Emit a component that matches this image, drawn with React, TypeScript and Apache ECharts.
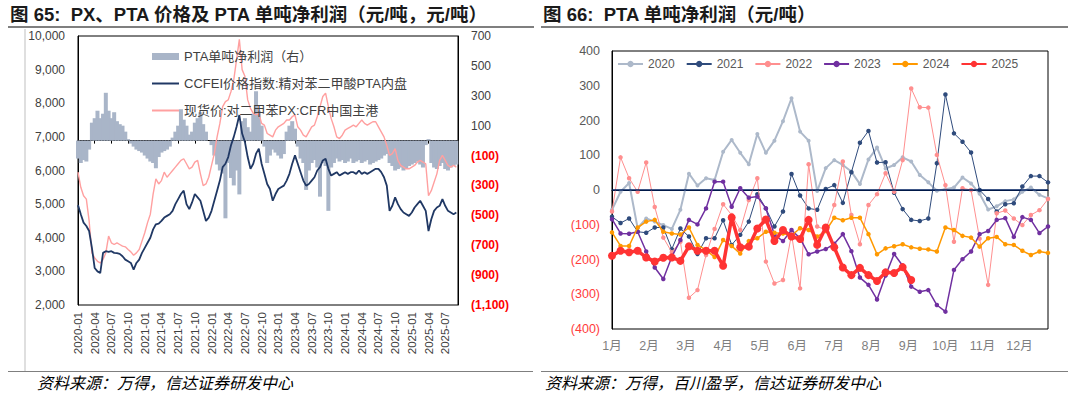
import React, { useEffect, useRef } from "react";
import * as echarts from "echarts";

// ---------- Left chart: semi-monthly samples from 2020-01 (step = 0.5 month) ----------
const SAMPLE_STEP = 0.5;
const START_YEAR = 2020;

const ptaPrice: number[] = [
  4970, 4700, 4450, 4350, 4200, 3700, 3100, 3000, 2950, 3550,
  3600, 3580, 3600, 3550, 3540, 3520, 3450, 3350, 3300, 3250,
  3050, 3250, 3350, 3550, 3700, 3850, 4000, 4250, 4400, 4420,
  4500, 4600, 4650, 4700, 4800, 5000, 5150, 5300, 5400, 5000,
  4850, 5050, 5300, 5200, 5100, 4800, 4500, 4600, 4800, 5100,
  5400, 5700, 6100, 6200, 6400, 6750, 7000, 7300, 7650, 7100,
  6850, 6400, 6050, 6200, 6500, 6650, 6200, 5900, 5600, 5450,
  5100, 5300, 5450, 5500, 5550, 5700, 5900, 6200, 6450, 6200,
  5950, 5700, 5550, 5600, 5700, 5800, 6000, 6100, 6300, 6350,
  6050, 5850, 5900, 5950, 5850, 5900, 5950, 5900, 5950, 5950,
  5900, 6000, 5900, 5950, 5900, 5950, 6000, 6050, 6050, 5950,
  5800, 5550, 4800, 4950, 5200, 5000, 4850, 4750, 4700, 4650,
  4750, 4900, 5000, 5100, 4950, 4800, 4200, 4550, 4800, 4900,
  4950, 5150, 4950, 4800, 4750, 4700, 4750,
];

const pxPrice: number[] = [
  5950, 5500, 5250, 5150, 4500, 3550, 3400, 3300, 3250, 3350,
  3550, 4050, 3850, 3800, 3850, 3800, 3750, 3730, 3650, 3580,
  3480, 3550, 3650, 3900, 4150, 4450, 4700, 5300, 5750, 5600,
  5700, 5950, 5800, 5900, 6000, 6100, 6200, 6300, 6350, 6200,
  6050, 6100, 6250, 6300, 5900, 5550, 5600, 5800, 6150, 6500,
  7000, 7400, 7900, 8050, 8100, 8350, 8700, 9300, 9900, 9000,
  8800, 8100, 7850, 7700, 7650, 7700, 7400, 7350, 7100, 7050,
  7000, 7200, 7300, 7350, 7400, 7500, 7500, 7600, 7650, 7300,
  7200, 7050, 7000, 7150, 7300, 7350, 7600, 7900, 8200, 8300,
  7900, 7550, 7300, 7000, 6950, 7050, 7200, 7250, 7300, 7350,
  7300, 7400, 7500, 7400, 7350, 7400, 7450, 7450, 7300, 7150,
  7000, 6750, 6450, 6500, 6650, 6300, 6150, 6100, 6050, 6050,
  6100, 6150, 6250, 6300, 6250, 6200, 5250, 5400, 5650, 5900,
  6300, 6450, 6300, 6150, 6100, 6150, 6100,
];

const ptaProfit: number[] = [
  -120, -150, -130, -140, -60, 120, 150, 200, 150, 180,
  320, 200, 150, 190, 130, 110, 100, 60, 10, -20,
  -40, -60, -70, -80, -100, -120, -140, -150, -185, -110,
  -80, -70, -60, -40, 20, 60, 100, 210, 140, 100,
  40, 60, 120, 150, 190, 110, 60, 0, -30, -100,
  -160, -200, -220, -520, -150, -250, -300, -200, -360, 130,
  150, 90, 60, 180, 330, 200, 100, -40, -150, -100,
  -60, -80, -100, -120, -90, 60, 100, 130, 80, -40,
  -120, -150, -330, -200, -150, -130, -180, -375, -150, -170,
  -470, -180, -150, -120, -140, -130, -150, -140, -120, -150,
  -140, -130, -150, -140, -130, -160, -150, -140, -130, -120,
  -100, -90, -150, -170, -200, -190, -180, -200, -190, -170,
  -160, -150, -140, -160, -180, -30, 10, -150, -180, -190,
  -170, -150, -190, -200, -180, -170, -160,
];

// ---------- Right chart: weekly PTA net profit by year ----------
const monthLabels = ["1月", "2月", "3月", "4月", "5月", "6月", "7月", "8月", "9月", "10月", "11月", "12月"];
const yearNames = ["2020", "2021", "2022", "2023", "2024", "2025"];

const profit2020 = [
  -57, -5, 20, -110, -82, -91, -101, -112, -57, 47,
  13, 34, 29, 110, 144, 107, 74, 161, 107, 142,
  198, 264, 168, 142, -3, 63, 86, 72, 53, 17,
  88, 122, 62, 72, 94, 82, 43, 22, -2, 2,
  7, 36, 19, -11, -56, -47, -32, -27, -5, 7,
  -14, -24,
];
const profit2021 = [
  -77, -95, -82, -120, -123, -108, -108, -170, -111, -134,
  -184, -139, -139, -87, -158, -129, -91, -12, -53, -105,
  -62, 46, -16, -53, -57, 3, 14, -37, 51, 136,
  170, 79, 80, -8, -55, -86, -89, -82, 77, 275,
  163, 139, 108, 0, -26, -62, -41, -38, 10, 40,
  40, 22,
];
const profit2022 = [
  -62, 94, 34, -5, 79, -49, -137, -179, -149, -310,
  -288, -187, -112, -41, -72, -115, -29, 34, -206, -269,
  -259, -128, -283, 74, -105, -115, -43, 82, -72, -156,
  -43, -12, 48, -5, 86, 292, 238, 237, 101, 14,
  -149, 5, 0, -140, -273, -67, -59, -82, -101, -72,
  -58, -26,
];
const profit2023 = [
  -84, -125, -126, -120, -177, -223, -256, -192, -144, -86,
  -99, -53, 24, 24, -48, 5, -22, -19, -53, -129,
  -147, -115, -139, -185, -177, -170, -155, -127, -176, -252,
  -273, -315, -246, -184, -218, -278, -293, -288, -331, -350,
  -230, -199, -177, -127, -118, -86, -81, -135, -78, -86,
  -124, -105,
];
const profit2024 = [
  -122, -161, -161, -108, -91, -86, -120, -125, -128, -108,
  -158, -173, -193, -144, -161, -183, -147, -139, -120, -123,
  -125, -131, -110, -115, -134, -118, -80, -87, -80, -80,
  -127, -185, -168, -162, -156, -165, -169, -171, -177, -108,
  -115, -132, -137, -163, -139, -135, -156, -158, -175, -187,
  -177, -181,
];
const profit2025 = [
  -189, -175, -179, -175, -194, -206, -195, -194, -204, -162,
  -175, -175, -175, -218, -79, -165, -163, -111, -85, -147,
  -115, -134, -141, -86, -158, -108, -165, -223, -245, -224,
  -245, -262, -237, -239, -222, -259,
];

const FONT = "'Liberation Sans', Arial, 'Noto Sans CJK SC', sans-serif";

function thousands(v: number): string {
  return Math.round(v).toString().replace(/\B(?=(\d{3})+(?!\d))/g, ",");
}

export default function App() {
  const ref = useRef<HTMLDivElement>(null);

  useEffect(() => {
    const chart = echarts.init(ref.current!, null, { renderer: "svg" });
    const semiMonthly = (arr: number[]) => arr.map((v, i) => [i * SAMPLE_STEP, v]);
    const weekly = (arr: number[]) => arr.map((v, i) => [i, v]);
    const wk = 52 / 12;

    const yearStyles = [
      { data: profit2020, color: "#ADB9CA", width: 2, size: 4 },
      { data: profit2021, color: "#2F4B7C", width: 1, size: 4.5 },
      { data: profit2022, color: "#FF8F8F", width: 1, size: 4.5 },
      { data: profit2023, color: "#7030A0", width: 1.5, size: 4.5 },
      { data: profit2024, color: "#FF9900", width: 1.5, size: 4.5 },
      { data: profit2025, color: "#FF3333", width: 3.5, size: 8 },
    ];

    const option: any = {
      animation: false,
      textStyle: { fontFamily: FONT },
      grid: [
        { left: 78, top: 36, width: 380, height: 269, show: true, borderColor: "#000", borderWidth: 1 },
        { left: 612, top: 51, width: 436, height: 278, show: true, borderColor: "#000", borderWidth: 1 },
      ],
      legend: [
        {
          orient: "vertical",
          left: 146,
          top: 45,
          itemWidth: 27,
          itemHeight: 7,
          itemGap: 14,
          data: [
            { name: "PTA单吨净利润（右）", icon: "rect" },
            { name: "CCFEI价格指数:精对苯二甲酸PTA内盘", itemStyle: { opacity: 0 } },
            { name: "现货价:对二甲苯PX:CFR中国主港", itemStyle: { opacity: 0 } },
          ],
          textStyle: { fontSize: 13, color: "#404040", fontFamily: FONT },
        },
        {
          left: 612,
          top: 53,
          itemWidth: 25,
          itemHeight: 8,
          itemGap: 11,
          data: yearNames,
          textStyle: { fontSize: 12, color: "#595959", fontFamily: FONT },
        },
      ],
      xAxis: [
        {
          type: "value",
          gridIndex: 0,
          min: 0,
          max: 68.3,
          interval: 3,
          axisLine: { show: true, lineStyle: { color: "#000" } },
          axisTick: { show: true, length: 3, lineStyle: { color: "#000" } },
          splitLine: { show: false },
          axisLabel: {
            rotate: 90,
            fontSize: 11.5,
            color: "#404040",
            margin: 7,
            showMaxLabel: false,
            formatter: (v: number) => {
              const m = Math.round(v);
              if (Math.abs(v - m) > 0.01 || m % 3 !== 0) return "";
              const y = START_YEAR + Math.floor(m / 12);
              const mm = (m % 12) + 1;
              return `${y}-${mm < 10 ? "0" + mm : mm}`;
            },
          },
        },
        {
          type: "value",
          gridIndex: 1,
          min: 0,
          max: 51,
          interval: wk,
          axisLine: { show: true, lineStyle: { color: "#000" } },
          axisTick: { show: false },
          splitLine: { show: false },
          axisLabel: {
            fontSize: 12.5,
            color: "#7F7F7F",
            margin: 11,
            showMaxLabel: false,
            formatter: (v: number) => {
              const k = v / wk;
              const r = Math.round(k);
              if (Math.abs(k - r) > 0.01 || r > 11) return "";
              return monthLabels[r];
            },
          },
        },
      ],
      yAxis: [
        {
          type: "value",
          gridIndex: 0,
          min: 2000,
          max: 10000,
          interval: 1000,
          axisLine: { show: true, lineStyle: { color: "#000" } },
          axisTick: { show: false },
          splitLine: { show: false },
          axisLabel: { formatter: (v: number) => thousands(v), color: "#404040", fontSize: 12, margin: 13 },
        },
        {
          type: "value",
          gridIndex: 0,
          position: "right",
          min: -1100,
          max: 700,
          interval: 200,
          axisLine: { show: true, lineStyle: { color: "#000" } },
          axisTick: { show: false },
          splitLine: { show: false },
          axisLabel: {
            margin: 13,
            formatter: (v: number) => (v < 0 ? `{n|(${thousands(-v)})}` : `{p|${thousands(v)}}`),
            rich: {
              n: { color: "#FF0000", fontWeight: "bold", fontSize: 12, fontFamily: FONT },
              p: { color: "#404040", fontSize: 12, fontFamily: FONT },
            },
          },
        },
        {
          type: "value",
          gridIndex: 1,
          min: -400,
          max: 400,
          interval: 100,
          axisLine: { show: true, lineStyle: { color: "#000" } },
          axisTick: { show: false },
          splitLine: { show: false },
          axisLabel: {
            margin: 12,
            formatter: (v: number) => (v < 0 ? `{n|(${thousands(-v)})}` : `{p|${thousands(v)}}`),
            rich: {
              n: { color: "#FF3B3B", fontSize: 12.5, fontFamily: FONT },
              p: { color: "#595959", fontSize: 12.5, fontFamily: FONT },
            },
          },
        },
      ],
      series: [
        {
          type: "bar",
          name: "PTA单吨净利润（右）",
          xAxisIndex: 0,
          yAxisIndex: 1,
          data: semiMonthly(ptaProfit),
          barWidth: 4,
          itemStyle: { color: "#A9B5C8" },
        },
        {
          type: "line",
          name: "现货价:对二甲苯PX:CFR中国主港",
          xAxisIndex: 0,
          yAxisIndex: 0,
          data: semiMonthly(pxPrice),
          symbol: "none",
          lineStyle: { color: "#FFA0A0", width: 1.4 },
          itemStyle: { color: "#FFA0A0" },
        },
        {
          type: "line",
          name: "CCFEI价格指数:精对苯二甲酸PTA内盘",
          xAxisIndex: 0,
          yAxisIndex: 0,
          data: semiMonthly(ptaPrice),
          symbol: "none",
          lineStyle: { color: "#203864", width: 1.8 },
          itemStyle: { color: "#203864" },
        },
        ...yearStyles.map((s, k) => ({
          type: "line",
          name: yearNames[k],
          xAxisIndex: 1,
          yAxisIndex: 2,
          data: weekly(s.data),
          symbol: "circle",
          symbolSize: s.size,
          lineStyle: { color: s.color, width: s.width },
          itemStyle: { color: s.color },
          z: 2 + k,
          ...(k === 0
            ? {
                markLine: {
                  silent: true,
                  symbol: ["none", "none"],
                  label: { show: false },
                  lineStyle: { color: "#002060", width: 1.5, type: "solid" },
                  data: [{ yAxis: 0 }],
                },
              }
            : {}),
        })),
      ],
      graphic: [
        {
          type: "text",
          x: 10,
          y: 14,
          style: {
            text: "图 65:  PX、PTA 价格及 PTA 单吨净利润（元/吨，元/吨）",
            font: `bold 18.5px ${FONT}`,
            fill: "#1a1a1a",
            verticalAlign: "middle",
          },
        },
        { type: "rect", shape: { x: 8, y: 26, width: 526, height: 2 }, style: { fill: "#7F7F7F" } },
        {
          type: "text",
          x: 543,
          y: 14,
          style: {
            text: "图 66:  PTA 单吨净利润（元/吨）",
            font: `bold 18.5px ${FONT}`,
            fill: "#1a1a1a",
            verticalAlign: "middle",
          },
        },
        { type: "rect", shape: { x: 541, y: 26, width: 527, height: 2 }, style: { fill: "#7F7F7F" } },
        { type: "line", shape: { x1: 25, y1: 29, x2: 25, y2: 371 }, style: { stroke: "#BFBFBF", lineWidth: 1 } },
        { type: "line", shape: { x1: 8, y1: 371.5, x2: 533, y2: 371.5 }, style: { stroke: "#7F7F7F", lineWidth: 1 } },
        { type: "line", shape: { x1: 541, y1: 371.5, x2: 1068, y2: 371.5 }, style: { stroke: "#7F7F7F", lineWidth: 1 } },
        {
          type: "text",
          x: 37,
          y: 382,
          style: {
            text: "资料来源：万得，信达证券研发中心",
            font: `italic 16px 'Noto Sans CJK SC', sans-serif`,
            fill: "#000",
            verticalAlign: "middle",
          },
        },
        {
          type: "text",
          x: 545,
          y: 382,
          style: {
            text: "资料来源：万得，百川盈孚，信达证券研发中心",
            font: `italic 16px 'Noto Sans CJK SC', sans-serif`,
            fill: "#000",
            verticalAlign: "middle",
          },
        },
      ],
    };

    chart.setOption(option);
    return () => chart.dispose();
  }, []);

  return (
    <div
      ref={ref}
      style={{ position: "absolute", left: 0, top: 0, width: 1073, height: 395, background: "#fff" }}
    />
  );
}
